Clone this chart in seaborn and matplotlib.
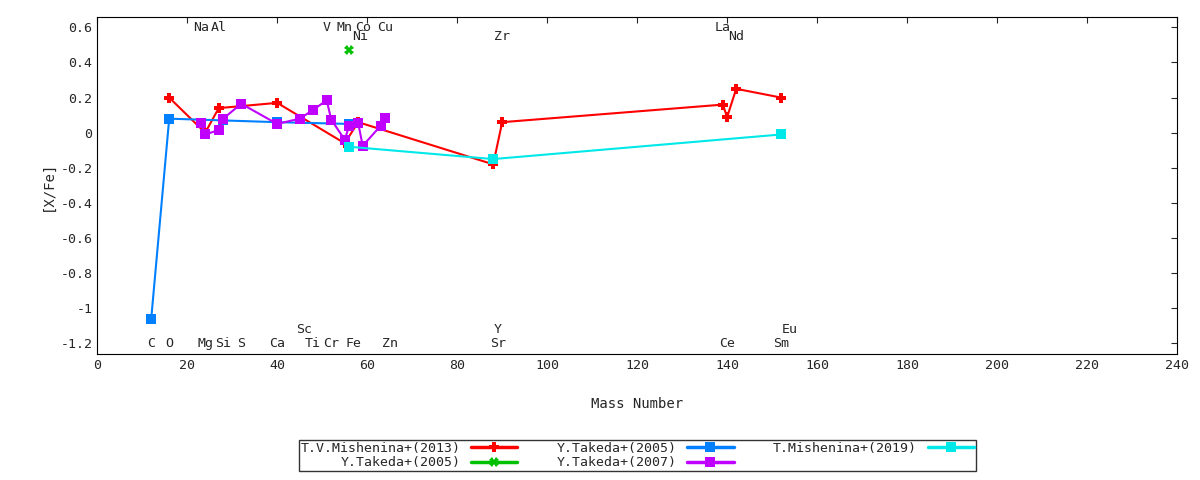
import numpy as np
import pandas as pd
import matplotlib
matplotlib.use("Agg")
import matplotlib.pyplot as plt
import seaborn as sns

# data
mish13_a = [16, 24, 27, 40, 55, 58, 88, 90, 139, 140, 142, 152]
mish13_v = [0.20, 0.00, 0.14, 0.17, -0.06, 0.06, -0.18, 0.06, 0.16, 0.09, 0.25, 0.20]
tak05b_a = [12, 16, 28, 40, 56]
tak05b_v = [-1.06, 0.08, 0.07, 0.06, 0.05]
tak05g_a = [56]
tak05g_v = [0.47]
tak07_a = [23, 24, 27, 28, 32, 40, 45, 48, 51, 52, 55, 56, 58, 59, 63, 64]
tak07_v = [0.055, -0.01, 0.015, 0.08, 0.165, 0.05, 0.08, 0.13, 0.185, 0.075,
           -0.04, 0.04, 0.055, -0.075, 0.04, 0.085]
mish19_a = [56, 88, 152]
mish19_v = [-0.08, -0.15, -0.01]

top_names = ["Na", "Al", "V", "Mn", "Co", "Cu", "La"]
top_pos = [23, 27, 51, 55, 59, 64, 139]
top2_names = ["Ni", "Zr", "Nd"]
top2_pos = [58.5, 90, 142]
bot_names = ["C", "O", "Mg", "Si", "S", "Ca", "Ti", "Cr", "Fe", "Zn", "Sr", "Ce", "Sm"]
bot_pos = [12, 16, 24, 28, 32, 40, 48, 52, 57, 65, 89, 140, 152]
bot2_names = ["Sc", "Y", "Eu"]
bot2_pos = [46, 89, 154]

sns.set_style("white")
plt.rcParams['font.family'] = ['DejaVu Sans Mono']
plt.rcParams['font.size'] = 10

fig, ax = plt.subplots(figsize=(12, 4.8), dpi=100)
fig.subplots_adjust(left=0.081, right=0.981, top=0.965, bottom=0.2625)

series = [
    ("T.V.Mishenina+(2013)", mish13_a, mish13_v, "#ff0000", "P"),
    ("Y.Takeda+(2005)", tak05g_a, tak05g_v, "#00c000", "X"),
    ("Y.Takeda+(2005)", tak05b_a, tak05b_v, "#0080ff", "s"),
    ("Y.Takeda+(2007)", tak07_a, tak07_v, "#c000ff", "s"),
    ("T.Mishenina+(2019)", mish19_a, mish19_v, "#00e8e8", "s"),
]
handles = []
for name, a, v, c, m in series:
    df = pd.DataFrame({"A": a, "v": v})
    sns.lineplot(data=df, x="A", y="v", sort=False, estimator=None, ax=ax,
                 color=c, marker=m, markersize=7, markeredgewidth=0, lw=1.5)
    handles.append(plt.Line2D([], [], color=c, marker=m, markersize=7,
                              markeredgewidth=0, lw=2.5, label=name))

for names, pos, y in [(top_names, top_pos, 0.6), (top2_names, top2_pos, 0.55),
                      (bot_names, bot_pos, -1.2), (bot2_names, bot2_pos, -1.12)]:
    for n, p in zip(names, pos):
        ax.text(p, y, n, ha="center", va="center", fontsize=9.5)

ax.set_xlim(0, 240)
ax.set_ylim(-1.26, 0.66)
ax.set_xticks(np.arange(0, 241, 20))
ax.set_yticks(np.arange(-1.2, 0.61, 0.2))
ax.set_yticklabels(["-1.2", "-1", "-0.8", "-0.6", "-0.4", "-0.2", "0", "0.2", "0.4", "0.6"])
ax.tick_params(direction="in", length=4, top=True, right=True, labelsize=9.5)
for s in ax.spines.values():
    s.set_color("black")
ax.set_xlabel("Mass Number", labelpad=18)
ax.set_ylabel("[X/Fe]")

ax.legend(handles=handles, ncol=3, loc="upper center", bbox_to_anchor=(0.5, -0.235),
          markerfirst=False, frameon=True, fancybox=False, edgecolor="black",
          handlelength=3.5, columnspacing=3, borderpad=0.15, labelspacing=0.1,
          fontsize=9.5)

fig.savefig("out.png")
